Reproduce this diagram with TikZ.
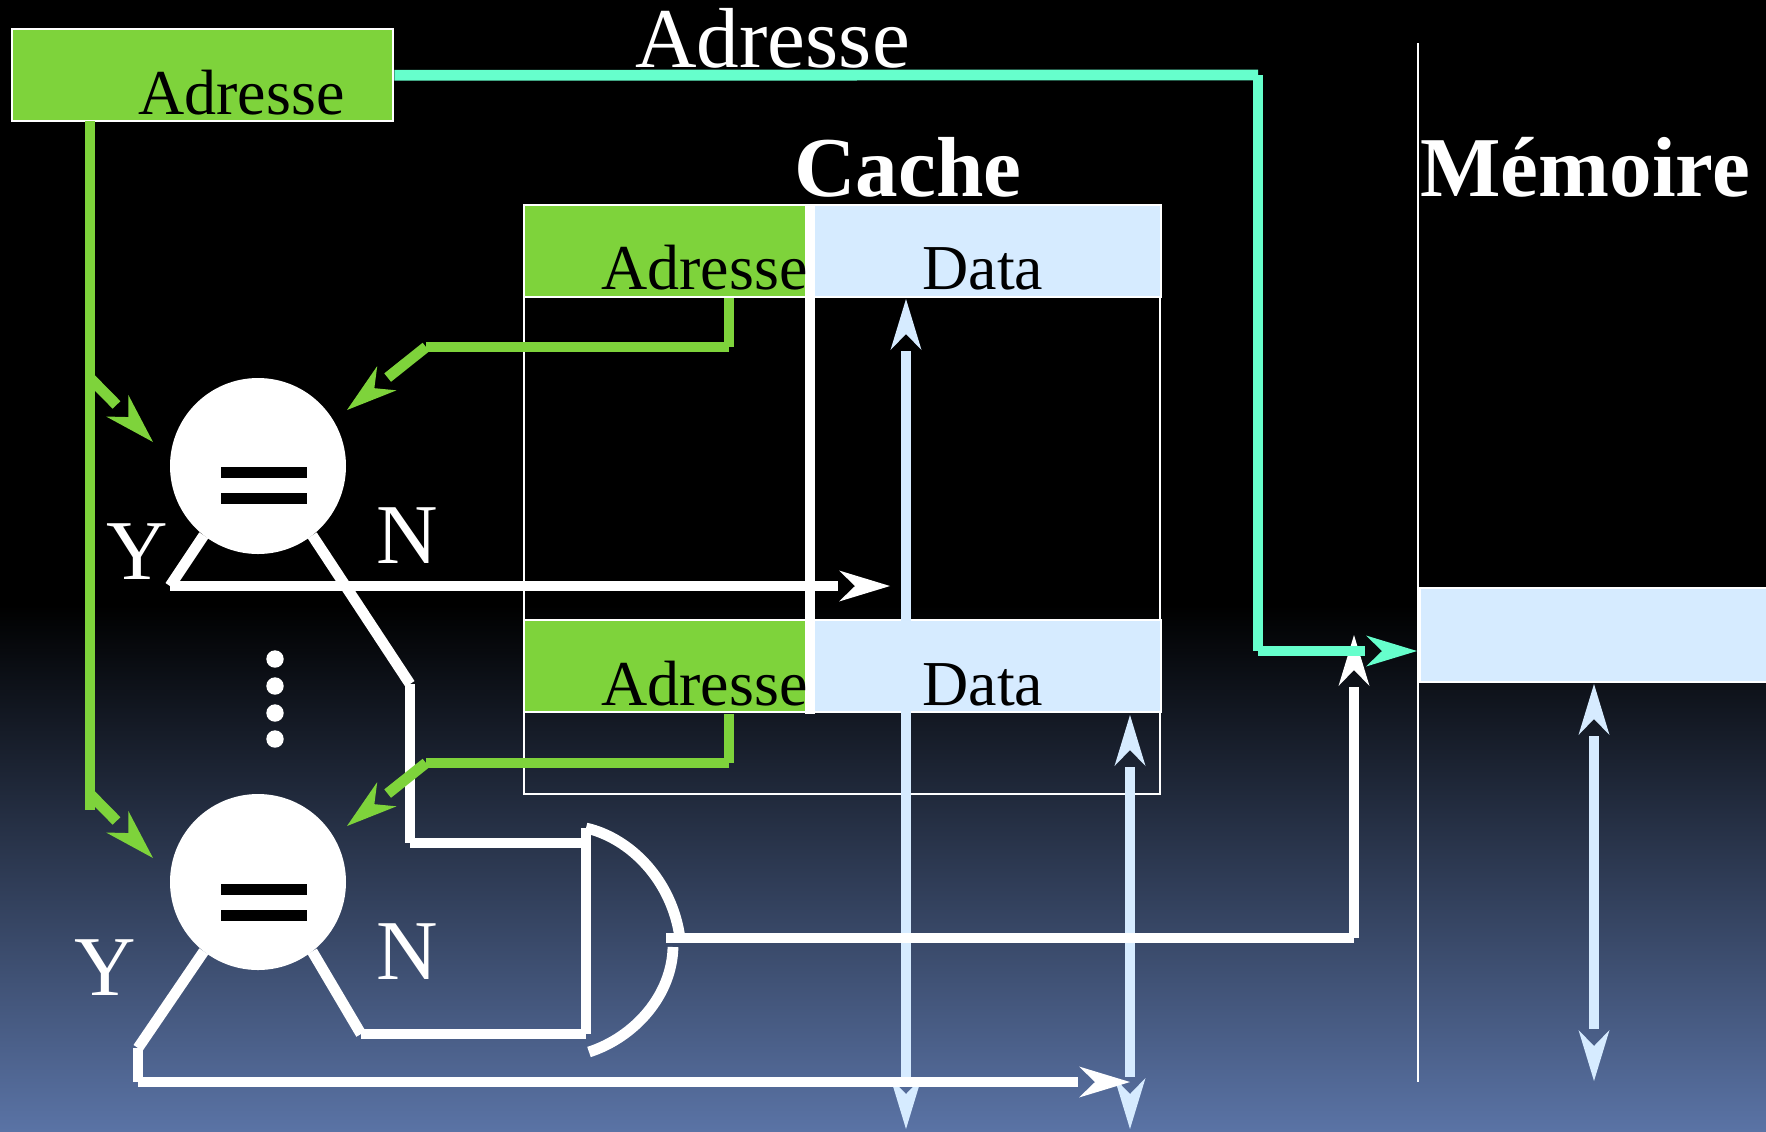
\documentclass[tikz,border=0pt]{standalone}
\usepackage{fontspec}
\setmainfont{Liberation Serif}
\usetikzlibrary{arrows.meta,positioning,calc}
\definecolor{vert}{RGB}{126,211,59}
\definecolor{bleu}{RGB}{214,235,255}
\definecolor{turq}{RGB}{102,255,204}
\definecolor{fond}{RGB}{90,115,165}
\pgfdeclarearrow{
 name=Fleche,
 setup code={\pgfarrowssettipend{25.5pt}\pgfarrowssetlineend{-0.5pt}\pgfarrowssetbackend{0pt}\pgfarrowssetvisualbackend{0pt}\pgfarrowssetvisualtipend{25.5pt}},
 drawing code={\pgfpathmoveto{\pgfqpoint{25.5pt}{0pt}}\pgfpathlineto{\pgfqpoint{0pt}{7.75pt}}\pgfpathlineto{\pgfqpoint{8pt}{0pt}}\pgfpathlineto{\pgfqpoint{0pt}{-7.75pt}}\pgfpathclose\pgfusepathqfill},
 defaults={}
}

\begin{document}
\begin{tikzpicture}[x=0.5pt,y=-0.5pt,>=Fleche,
 cell/.style={draw=white,line width=1.2pt,minimum height=46pt,inner sep=0pt,anchor=north west},
 lab/.style={inner sep=0pt,anchor=base west,font=\fontsize{32pt}{34pt}\selectfont},
 big/.style={inner sep=0pt,anchor=base west,text=white,font=\fontsize{42.6pt}{46pt}\selectfont},
 titre/.style={big,font=\fontsize{42.6pt}{46pt}\selectfont\bfseries},
 cmp/.style={circle,fill=white,minimum size=88pt,inner sep=0pt,outer sep=0pt},
 pt/.style={circle,fill=white,minimum size=8.7pt,inner sep=0pt},
 fil/.style={line width=5.4pt,white},
 vfil/.style={line width=5.4pt,vert},
 tfil/.style={line width=5.4pt,turq},
 bfil/.style={line width=5.4pt,bleu}]
 \useasboundingbox (0,0) rectangle (1766,1131);
 \fill[black] (0,0) rectangle (1766,606);
 \shade[top color=black,bottom color=fond] (0,605) rectangle (1766,1131);
 % cache
 \node[draw=white,line width=1.2pt,minimum width=318pt,minimum height=294.5pt,inner sep=0pt,anchor=north west] (cache) at (522.5,203.5) {};
 \node[cell,fill=vert,minimum width=143pt] (tagA) at (522.5,203.5) {};
 \node[cell,fill=bleu,minimum width=174pt] (dataA) at (812,203.5) {};
 \node[cell,fill=vert,minimum width=143pt] (tagB) at (522.5,619) {};
 \node[cell,fill=bleu,minimum width=174pt] (dataB) at (812,619) {};
 \fill[white] (805,204) rectangle (815,714);
 \node[lab] (tA) at (601,289) {Adresse};
 \node[lab] (dA) at (922,289) {Data};
 \node[lab] (tB) at (601,705) {Adresse};
 \node[lab] (dB) at (922,705) {Data};
 % memoire
 \node[cell,fill=bleu,minimum width=175pt,minimum height=47pt] (memcell) at (1419,587) {};
 \draw[white,line width=1pt] (1418,43)--(1418,1082);
 \node[cell,fill=vert,minimum width=190.5pt,minimum height=46pt] (regA) at (11,28) {};
 \node[lab] (tR) at (138,114) {Adresse};
 \node[big] (tH) at (635,67) {Adresse};
 \node[titre] (tC) at (794,196) {Cache};
 \node[titre] (tM) at (1420,196) {Mémoire};
 % comparateurs
 \node[cmp] (cmpA) at (258,466) {};
 \node[cmp] (cmpB) at (258,882) {};
 \foreach \y in {467,493,884,910} \fill[black] (221,\y) rectangle (307,\y+10.5);
 \node[big] (yA) at (106,579) {Y};
 \node[big] (nA) at (376,563) {N};
 \node[big] (yB) at (74,995) {Y};
 \node[big] (nB) at (376,979) {N};
 \foreach \y in {659,686,713,739} \node[pt] at (275,\y) {};
 % bus data
 \coordinate (bA) at (906,299); \coordinate (bB) at (906,1129);
 \coordinate (bC) at (1130,715); \coordinate (bD) at (1130,1129);
 \coordinate (bE) at (1594,684); \coordinate (bF) at (1594,1081);
 \draw[bfil,<->] (bA)--(bB);
 \draw[bfil,<->] (bC)--(bD);
 \draw[bfil,<->] (bE)--(bF);
 % lignes Y / N
 \coordinate (yA1) at (170,586); \coordinate (yA2) at (890,586);
 \coordinate (nA1) at (410,684); \coordinate (nA2) at (410,843); \coordinate (nA3) at (586,843);
 \coordinate (yB1) at (138,1048); \coordinate (yB2) at (138,1082); \coordinate (yB3) at (1130,1082);
 \coordinate (nB1) at (361,1034); \coordinate (nB2) at (586,1034);
 \coordinate (gA) at (586,828); \coordinate (gB) at (680,938);
 \coordinate (gC) at (673,947); \coordinate (gD) at (589,1052);
 \coordinate (gS) at (666,938); \coordinate (gT) at (1354,938); \coordinate (up) at (1354,635);
 \draw[fil] (cmpA.232)--(yA1); \draw[fil,->] (yA1)--(yA2);
 \draw[fil] (cmpA.308)--(nA1); \draw[fil] (nA1)--(nA2); \draw[fil] (nA2)--(nA3);
 \draw[fil] (cmpB.232)--(yB1); \draw[fil] (yB1)--(yB2); \draw[fil,->] (yB2)--(yB3);
 \draw[fil] (cmpB.308)--(nB1); \draw[fil] (nB1)--(nB2);
 \draw[fil] (gA)--(gA|-nB2);
 \draw[fil] (gA) .. controls (630,838) and (672,880) .. (gB);
 \draw[fil] (gC) .. controls (672,995) and (635,1037) .. (gD);
 \draw[fil] (gS)--(gT); \draw[fil,->] (gT)--(up);
 % adresses
 \coordinate (v0) at (90,121); \coordinate (v1) at (90,378); \coordinate (v2) at (90,794);
 \coordinate (v3) at (90,810); \coordinate (tipA) at (153,442); \coordinate (tipB) at (153,858);
 \coordinate (dpA) at (729,298); \coordinate (dpB) at (729,714);
 \coordinate (cnA) at (729,347); \coordinate (cnB) at (729,763);
 \coordinate (hA) at (426,347); \coordinate (hB) at (426,763);
 \coordinate (tipC) at (347,410); \coordinate (tipD) at (347,826);
 \coordinate (tb) at (1258,75); \coordinate (tc) at (1258,651); \coordinate (tipM) at (1417,651);
 \draw[vfil] (v0)--(v3);
 \draw[vfil,->] (v1)--(tipA);
 \draw[vfil,->] (v2)--(tipB);
 \draw[vfil] (dpA)--(cnA); \draw[vfil] (cnA)--(hA); \draw[vfil,->] (hA)--(tipC);
 \draw[vfil] (dpB)--(cnB); \draw[vfil] (cnB)--(hB); \draw[vfil,->] (hB)--(tipD);
 \draw[tfil] (regA.east)--(tb); \draw[tfil] (tb)--(tc); \draw[tfil,->] (tc)--(tipM);
\end{tikzpicture}
\end{document}
